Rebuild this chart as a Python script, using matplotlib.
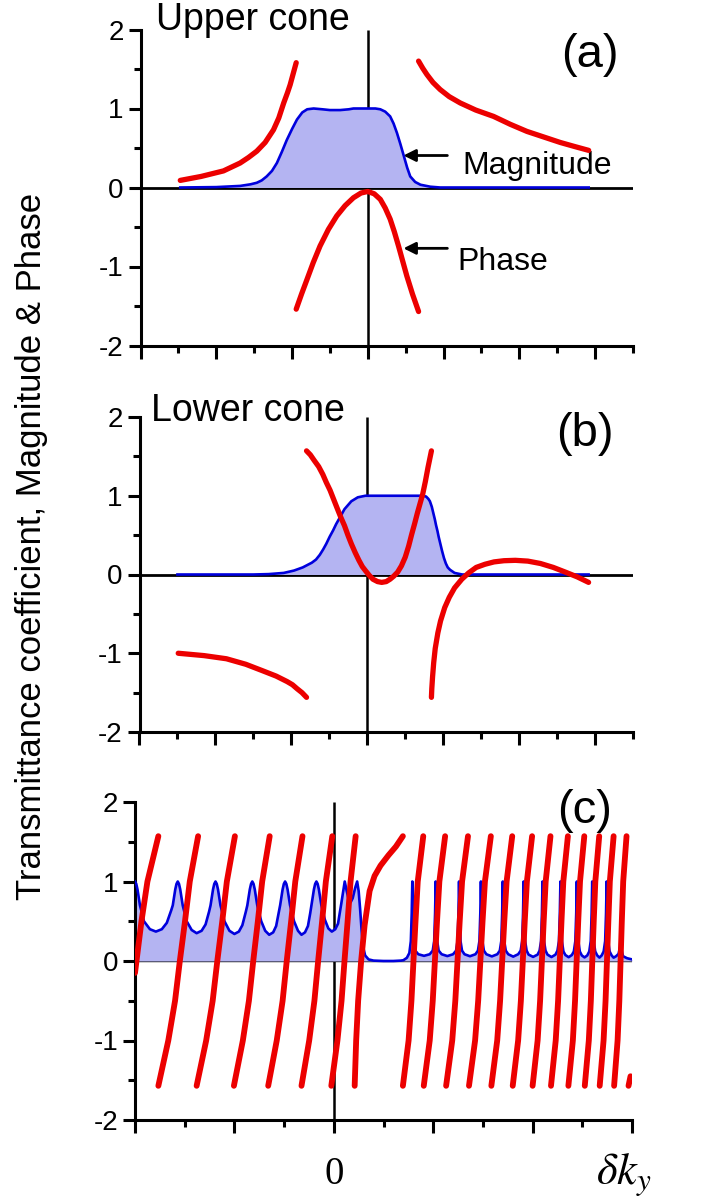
import matplotlib
matplotlib.use('Agg')
import matplotlib.pyplot as plt
from matplotlib import font_manager

# ---------------- data ----------------
# panel (a): upper cone
mag_a_x = [-4.95, -4.0, -3.37, -3.1, -2.93, -2.8, -2.67, -2.53, -2.4, -2.27, -2.14, -2.0, -1.87,
           -1.73, -1.6, -1.43, -1.2, -1.0, -0.73, -0.5, -0.38, 0.0, 0.2, 0.33, 0.46, 0.59, 0.68,
           0.77, 0.86, 0.95, 1.04, 1.12, 1.25, 1.39, 1.65, 1.91, 5.83]
mag_a_y = [0.0, 0.005, 0.02, 0.04, 0.06, 0.09, 0.14, 0.21, 0.31, 0.45, 0.6, 0.74, 0.86,
           0.95, 0.99, 1.0, 0.99, 0.98, 0.98, 0.99, 1.0, 1.0, 1.0, 0.99, 0.96, 0.9, 0.81,
           0.69, 0.55, 0.4, 0.25, 0.14, 0.07, 0.035, 0.01, 0.0, 0.0]
ph_a1_x = [-4.95, -4.4, -3.81, -3.37, -3.15, -2.93, -2.71, -2.49, -2.35, -2.22, -2.12, -2.05, -1.97, -1.89]
ph_a1_y = [0.09, 0.14, 0.21, 0.31, 0.38, 0.46, 0.57, 0.73, 0.88, 1.07, 1.2, 1.3, 1.44, 1.58]
ph_a2_x = [-1.89, -1.75, -1.61, -1.44, -1.26, -1.04, -0.82, -0.6, -0.38, -0.18, 0.0, 0.17, 0.33,
           0.46, 0.59, 0.7, 0.81, 0.92, 1.03, 1.18, 1.34]
ph_a2_y = [-1.54, -1.35, -1.17, -0.95, -0.74, -0.53, -0.36, -0.23, -0.13, -0.07, -0.05, -0.08, -0.15,
           -0.26, -0.4, -0.56, -0.74, -0.93, -1.12, -1.35, -1.57]
ph_a3_x = [1.34, 1.45, 1.56, 1.72, 1.91, 2.15, 2.44, 2.85, 3.32, 3.76, 4.2, 4.64, 5.08, 5.45, 5.83]
ph_a3_y = [1.6, 1.51, 1.43, 1.33, 1.24, 1.15, 1.07, 0.98, 0.9, 0.8, 0.71, 0.64, 0.57, 0.52, 0.47]

# panel (b): lower cone
mag_b_x = [-5.0, -3.0, -2.6, -2.2, -1.93, -1.7, -1.46, -1.35, -1.25, -1.16, -1.08, -0.99, -0.9,
           -0.82, -0.75, -0.6, -0.42, -0.25, -0.05, 0.5, 1.0, 1.45, 1.55, 1.61, 1.65, 1.7, 1.74,
           1.78, 1.81, 1.85, 1.88, 1.93, 1.97, 2.02, 2.07, 2.12, 2.18, 2.3, 2.5, 5.83]
mag_b_y = [0.0, 0.0, 0.005, 0.02, 0.05, 0.09, 0.15, 0.19, 0.25, 0.32, 0.39, 0.48, 0.56,
           0.64, 0.7, 0.83, 0.93, 0.98, 1.0, 1.0, 1.0, 1.0, 0.99, 0.96, 0.93, 0.86, 0.78,
           0.7, 0.63, 0.55, 0.48, 0.38, 0.3, 0.21, 0.14, 0.09, 0.06, 0.02, 0.0, 0.0]
ph_b1_x = [-4.98, -4.3, -3.71, -3.2, -2.77, -2.4, -2.11, -1.97, -1.85, -1.72, -1.6]
ph_b1_y = [-1.0, -1.03, -1.07, -1.14, -1.22, -1.29, -1.36, -1.4, -1.45, -1.5, -1.56]
ph_b2_x = [-1.6, -1.5, -1.4, -1.28, -1.17, -1.08, -0.98, -0.89, -0.8, -0.7, -0.6, -0.51, -0.42,
           -0.32, -0.22, -0.13, -0.05, 0.05, 0.15, 0.27, 0.38, 0.5, 0.6, 0.7, 0.8, 0.9, 1.0,
           1.09, 1.17, 1.25, 1.32, 1.39, 1.46, 1.53, 1.6, 1.69]
ph_b2_y = [1.57, 1.52, 1.45, 1.37, 1.27, 1.17, 1.07, 0.96, 0.85, 0.73, 0.62, 0.5, 0.39,
           0.28, 0.18, 0.1, 0.05, -0.01, -0.06, -0.09, -0.1, -0.09, -0.06, -0.02, 0.03, 0.11, 0.22,
           0.36, 0.51, 0.65, 0.78, 0.9, 1.02, 1.18, 1.36, 1.57]
ph_b3_x = [1.69, 1.7, 1.72, 1.75, 1.79, 1.86, 1.93, 2.04, 2.16, 2.3, 2.49, 2.67, 2.87, 3.1,
           3.34, 3.6, 3.9, 4.23, 4.56, 4.9, 5.22, 5.53, 5.83]
ph_b3_y = [-1.56, -1.45, -1.3, -1.12, -0.94, -0.74, -0.59, -0.42, -0.29, -0.17, -0.06, 0.02, 0.09, 0.13,
           0.16, 0.175, 0.18, 0.17, 0.14, 0.09, 0.03, -0.03, -0.1]

# panel (c): magnitude
mag_c_x = [-4.00, -3.975, -3.95, -3.90, -3.82, -3.70, -3.58, -3.46, -3.36, -3.27, -3.24, -3.19, -3.165,
           -3.14, -3.115, -3.09, -3.04, -2.96, -2.86, -2.76, -2.66, -2.58, -2.51, -2.48, -2.43, -2.405,
           -2.38, -2.355, -2.33, -2.28, -2.20, -2.10, -2.00, -1.91, -1.84, -1.77, -1.74, -1.69, -1.665,
           -1.64, -1.615, -1.59, -1.54, -1.46, -1.38, -1.30, -1.22, -1.16, -1.11, -1.08, -1.03, -1.005,
           -0.98, -0.955, -0.93, -0.88, -0.80, -0.72, -0.65, -0.58, -0.52, -0.475, -0.45, -0.40, -0.375,
           -0.35, -0.325, -0.30, -0.25, -0.18, -0.11, -0.04, 0.03, 0.085, 0.125, 0.15, 0.195, 0.21,
           0.22, 0.26, 0.30, 0.34, 0.38, 0.43, 0.47, 0.50, 0.53, 0.56, 0.59, 0.63, 0.70, 0.80,
           1.00, 1.20, 1.35, 1.40, 1.47, 1.52, 1.55, 1.568,
           1.58, 1.592, 1.61, 1.64, 1.70, 1.815, 1.93, 1.99, 2.02, 2.038,
           2.05, 2.062, 2.08, 2.11, 2.17, 2.285, 2.40, 2.46, 2.49, 2.508,
           2.52, 2.532, 2.55, 2.58, 2.63, 2.74, 2.85, 2.90, 2.93, 2.948,
           2.96, 2.972, 2.99, 3.02, 3.07, 3.18, 3.29, 3.34, 3.37, 3.388,
           3.40, 3.412, 3.43, 3.46, 3.51, 3.61, 3.71, 3.76, 3.79, 3.808,
           3.82, 3.832, 3.85, 3.88, 3.92, 4.01, 4.10, 4.14, 4.17, 4.188,
           4.20, 4.212, 4.23, 4.26, 4.30, 4.38, 4.46, 4.50, 4.53, 4.548,
           4.56, 4.572, 4.59, 4.62, 4.66, 4.725, 4.79, 4.83, 4.86, 4.878,
           4.89, 4.902, 4.92, 4.95, 4.99, 5.045, 5.10, 5.14, 5.17, 5.188,
           5.20, 5.212, 5.23, 5.26, 5.30, 5.345, 5.39, 5.43, 5.46, 5.478,
           5.49, 5.502, 5.52, 5.55, 5.59, 5.63, 5.68, 5.73, 5.76,
           5.77, 5.785, 5.82, 5.90, 6.00]
mag_c_y = [1.0, 0.97, 0.90, 0.70, 0.50, 0.40, 0.37, 0.40, 0.48, 0.64, 0.70, 0.90, 0.97,
           1.0, 0.97, 0.90, 0.70, 0.50, 0.39, 0.35, 0.38, 0.46, 0.62, 0.70, 0.90, 0.97,
           1.0, 0.97, 0.90, 0.70, 0.50, 0.38, 0.34, 0.37, 0.45, 0.62, 0.70, 0.90, 0.97,
           1.0, 0.97, 0.90, 0.70, 0.50, 0.38, 0.33, 0.36, 0.44, 0.60, 0.70, 0.90, 0.97,
           1.0, 0.97, 0.90, 0.70, 0.50, 0.38, 0.33, 0.36, 0.44, 0.60, 0.70, 0.90, 0.97,
           1.0, 0.97, 0.90, 0.70, 0.52, 0.41, 0.37, 0.40, 0.47, 0.62, 0.72, 0.90, 0.96,
           1.0, 0.88, 0.77, 0.74, 0.79, 0.92, 1.0, 0.88, 0.65, 0.38, 0.18, 0.07, 0.02, 0.005,
           0.0, 0.0, 0.005, 0.01, 0.04, 0.10, 0.25, 0.6,
           1.0, 0.6, 0.25, 0.13, 0.085, 0.065, 0.085, 0.13, 0.25, 0.6,
           1.0, 0.6, 0.25, 0.13, 0.085, 0.062, 0.085, 0.13, 0.25, 0.6,
           1.0, 0.6, 0.25, 0.13, 0.085, 0.06, 0.085, 0.13, 0.25, 0.6,
           1.0, 0.6, 0.25, 0.13, 0.085, 0.058, 0.085, 0.13, 0.25, 0.6,
           1.0, 0.6, 0.25, 0.13, 0.085, 0.055, 0.085, 0.13, 0.25, 0.6,
           1.0, 0.6, 0.25, 0.13, 0.08, 0.052, 0.08, 0.13, 0.25, 0.6,
           1.0, 0.6, 0.25, 0.13, 0.08, 0.05, 0.08, 0.13, 0.25, 0.6,
           1.0, 0.6, 0.25, 0.12, 0.075, 0.048, 0.075, 0.12, 0.25, 0.6,
           1.0, 0.6, 0.25, 0.12, 0.07, 0.045, 0.07, 0.12, 0.25, 0.6,
           1.0, 0.6, 0.25, 0.12, 0.07, 0.043, 0.07, 0.12, 0.25, 0.6,
           1.0, 0.6, 0.25, 0.12, 0.07, 0.042, 0.06, 0.09, 0.18,
           0.30, 0.15, 0.06, 0.035, 0.02]

# panel (c): phase branches, x positions read at common phase levels
phase_levels = [-1.57, -1.0, -0.5, 0.0, 0.5, 1.0, 1.57]
ph_c_branches = [
    [-3.53, -3.33, -3.194, -3.098, -2.994, -2.898, -2.73],
    [-2.76, -2.568, -2.437, -2.344, -2.244, -2.152, -1.99],
    [-2.01, -1.83, -1.708, -1.621, -1.528, -1.441, -1.29],
    [-1.32, -1.148, -1.03, -0.947, -0.858, -0.775, -0.63],
    [-0.65, -0.495, -0.39, -0.315, -0.235, -0.16, -0.03],
    [-0.05, 0.073, 0.156, 0.215, 0.278, 0.337, 0.44],
    [1.39, 1.505, 1.562, 1.603, 1.644, 1.689, 1.80],
    [1.81, 1.93, 1.991, 2.034, 2.077, 2.124, 2.24],
    [2.26, 2.383, 2.445, 2.489, 2.533, 2.581, 2.70],
    [2.72, 2.843, 2.905, 2.949, 2.993, 3.041, 3.16],
    [3.17, 3.288, 3.346, 3.388, 3.43, 3.477, 3.59],
    [3.60, 3.709, 3.764, 3.803, 3.842, 3.885, 3.99],
    [4.00, 4.101, 4.151, 4.187, 4.223, 4.263, 4.36],
    [4.37, 4.465, 4.513, 4.547, 4.581, 4.618, 4.71],
    [4.72, 4.81, 4.854, 4.886, 4.918, 4.954, 5.04],
    [5.05, 5.131, 5.172, 5.201, 5.23, 5.262, 5.34],
    [5.35, 5.428, 5.468, 5.496, 5.524, 5.554, 5.63],
    [5.64, 5.71, 5.745, 5.77, 5.795, 5.823, 5.89],
]
ph_c_first_x = [-4.0, -3.97, -3.87, -3.75, -3.53]
ph_c_first_y = [-0.15, 0.0, 0.5, 1.0, 1.57]
ph_c_bend_x = [0.42, 0.45, 0.49, 0.55, 0.62, 0.72, 0.82, 0.94, 1.10, 1.25, 1.39]
ph_c_bend_y = [-1.57, -1.0, -0.5, 0.0, 0.45, 0.88, 1.07, 1.2, 1.33, 1.44, 1.57]
ph_c_last_x = [5.93, 5.97]
ph_c_last_y = [-1.57, -1.45]

# ---------------- style ----------------
RED = '#ec0000'
BLUE = '#0000dd'
FILL = '#b4b4f2'
plt.rcParams['font.family'] = ['Liberation Sans', 'DejaVu Sans']
plt.rcParams['mathtext.fontset'] = 'stix'
plt.rcParams['axes.unicode_minus'] = False

fig = plt.figure(figsize=(7.07, 12.01), dpi=100)
W, H = 707.0, 1201.0


def make_axes(left_px, right_px, top_px, bottom_px):
    return fig.add_axes([left_px / W, 1 - bottom_px / H, (right_px - left_px) / W,
                         (bottom_px - top_px) / H])


def style(ax, xmin, xmax, xmaj, xmin_ticks, zero_lw):
    ax.set_xlim(xmin, xmax)
    ax.set_ylim(-2, 2)
    for s in ['top', 'right']:
        ax.spines[s].set_visible(False)
    for s in ['left', 'bottom']:
        ax.spines[s].set_linewidth(2.2)
    ax.set_yticks([-2, -1, 0, 1, 2])
    ax.set_yticklabels(['-2', '-1', '0', '1', '2'])
    ax.set_yticks([-1.5, -0.5, 0.5, 1.5], minor=True)
    ax.set_xticks(xmaj)
    ax.set_xticklabels([])
    ax.set_xticks(xmin_ticks, minor=True)
    ax.tick_params(which='major', length=9, width=2.2, labelsize=20, direction='out', pad=3)
    ax.tick_params(which='minor', length=5, width=2.2, direction='out')
    ax.plot([xmin, xmax], [0, 0], color='k', lw=zero_lw, zorder=1, solid_capstyle='butt')
    ax.plot([0, 0], [-2, 2], color='k', lw=1.8, zorder=1, solid_capstyle='butt')


def magnitude(ax, x, y):
    ax.fill_between(x, 0, y, color=FILL, lw=0, zorder=2)
    ax.plot(x, y, color=BLUE, lw=1.9, zorder=3, solid_joinstyle='round')


def phase(ax, x, y, lw=3.8):
    ax.plot(x, y, color=RED, lw=lw, zorder=4, solid_capstyle='round', solid_joinstyle='round')


# ---------- panel (a)
axa = make_axes(140.5, 633, 29.5, 345.5)
style(axa, -6, 7, [-6, -4, -2, 0, 2, 4, 6], [-5, -3, -1, 1, 3, 5, 7], 2.0)
magnitude(axa, mag_a_x, mag_a_y)
phase(axa, ph_a1_x, ph_a1_y)
phase(axa, ph_a2_x, ph_a2_y)
phase(axa, ph_a3_x, ph_a3_y)
axa.text(-5.6, 2.0, 'Upper cone', fontsize=27, ha='left', va='baseline', clip_on=False)
axa.text(5.87, 1.68, '(a)', fontsize=34, ha='center', va='center')
arrow = dict(arrowstyle='-|>', color='k', lw=2.0, mutation_scale=18, shrinkA=0, shrinkB=0)
axa.annotate('', xy=(0.94, 0.405), xytext=(2.1, 0.405), arrowprops=arrow, zorder=5)
axa.annotate('', xy=(0.94, -0.77), xytext=(2.1, -0.77), arrowprops=arrow, zorder=5)
axa.text(2.49, 0.165, 'Magnitude', fontsize=23, ha='left', va='baseline')
axa.text(2.36, -1.04, 'Phase', fontsize=23, ha='left', va='baseline')

# ---------- panel (b)
axb = make_axes(139.5, 633, 417, 732)
style(axb, -6, 7, [-6, -4, -2, 0, 2, 4, 6], [-5, -3, -1, 1, 3, 5, 7], 2.0)
magnitude(axb, mag_b_x, mag_b_y)
phase(axb, ph_b1_x, ph_b1_y)
phase(axb, ph_b2_x, ph_b2_y)
phase(axb, ph_b3_x, ph_b3_y)
axb.text(-5.69, 1.95, 'Lower cone', fontsize=27, ha='left', va='baseline', clip_on=False)
axb.text(5.73, 1.79, '(b)', fontsize=34, ha='center', va='center')

# ---------- panel (c)
axc = make_axes(135, 632, 802, 1120)
style(axc, -4, 6, [-4, -2, 0, 2, 4, 6], [-3, -1, 1, 3, 5], 1.0)
magnitude(axc, mag_c_x, mag_c_y)
for bx in ph_c_branches:
    phase(axc, bx, phase_levels, lw=4.2)
phase(axc, ph_c_first_x, ph_c_first_y, lw=4.2)
phase(axc, ph_c_bend_x, ph_c_bend_y, lw=4.2)
phase(axc, ph_c_last_x, ph_c_last_y, lw=4.2)
axc.text(5.05, 1.89, '(c)', fontsize=34, ha='center', va='center', clip_on=False)
axc.text(0, -2.8, '0', fontsize=28, family=['Liberation Serif', 'DejaVu Serif'],
         ha='center', va='baseline', clip_on=False)
axc.text(5.27, -2.8, r'$\delta k_y$', fontsize=32, ha='left', va='baseline', clip_on=False)

# ---------- y label
try:
    font_manager.findfont(font_manager.FontProperties(family='Liberation Sans Narrow'),
                          fallback_to_default=False)
    ylab_family, ylab_size = ['Liberation Sans Narrow', 'DejaVu Sans'], 30
except Exception:
    ylab_family, ylab_size = ['Liberation Sans', 'DejaVu Sans'], 25
fig.text(32 / W, 1 - 546 / H, 'Transmittance coefficient, Magnitude & Phase',
         rotation=90, ha='center', va='center', fontsize=ylab_size, family=ylab_family)

fig.savefig('out.png', dpi=100)
